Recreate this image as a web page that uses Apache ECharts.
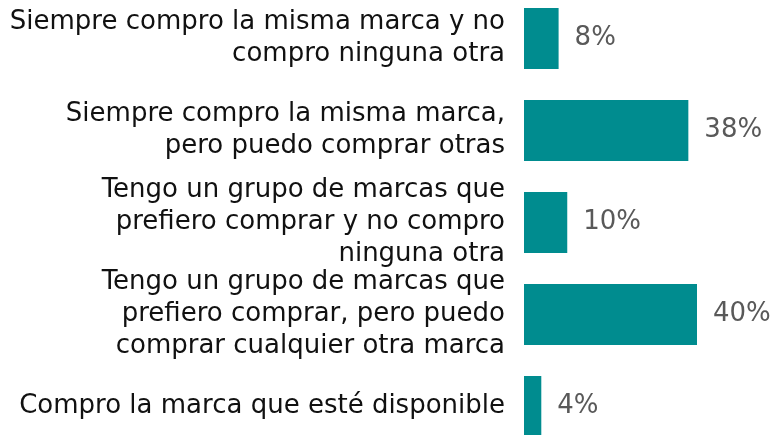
<!DOCTYPE html>
<html>
<head>
<meta charset="utf-8">
<script src="https://cdn.jsdelivr.net/npm/echarts@6/dist/echarts.min.js"></script>
<style>
  html, body { margin: 0; padding: 0; background: #fff; }
  #chart { width: 775px; height: 435px; }
</style>
</head>
<body>
<div id="chart"></div>
<script>
var categories = [
  'Siempre compro la misma marca y no\ncompro ninguna otra',
  'Siempre compro la misma marca,\npero puedo comprar otras',
  'Tengo un grupo de marcas que\nprefiero comprar y no compro\nninguna otra',
  'Tengo un grupo de marcas que\nprefiero comprar, pero puedo\ncomprar cualquier otra marca',
  'Compro la marca que esté disponible'
];
var values = [8, 38, 10, 40, 4];

var chart = echarts.init(document.getElementById('chart'));
chart.setOption({
  animation: false,
  grid: {
    left: 524,
    width: 173,
    top: -7.5,
    height: 460,
    outerBoundsMode: 'none'
  },
  xAxis: {
    type: 'value',
    min: 0,
    max: 40,
    show: false
  },
  yAxis: {
    type: 'category',
    inverse: true,
    data: categories,
    axisLine: { show: false },
    axisTick: { show: false },
    axisLabel: {
      margin: 19,
      color: '#111',
      fontFamily: 'DejaVu Sans',
      fontSize: 26,
      lineHeight: 32,
      align: 'right'
    }
  },
  series: [{
    type: 'bar',
    data: values,
    barWidth: 61,
    itemStyle: { color: '#008C8F' },
    label: {
      show: true,
      position: 'right',
      distance: 16,
      formatter: '{c}%',
      color: '#595959',
      fontFamily: 'DejaVu Sans',
      fontSize: 26
    }
  }]
});
</script>
</body>
</html>
